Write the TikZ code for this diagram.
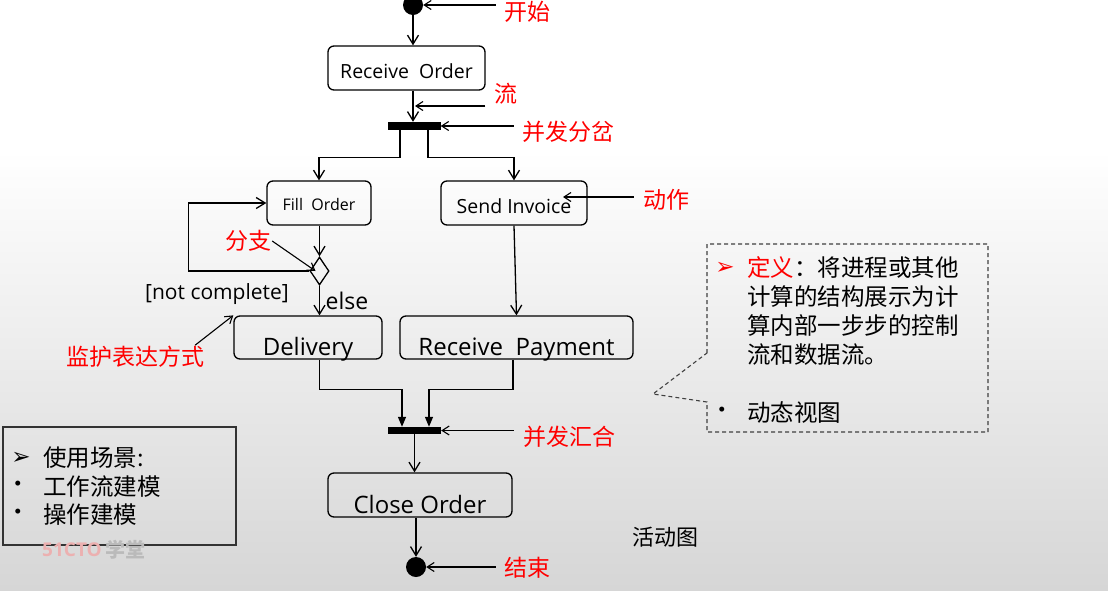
\documentclass[tikz,border=0pt]{standalone}
\usepackage{fontspec}
\setmainfont{Open Sans}
\newfontfamily\cjk{Noto Sans CJK SC}
\newfontfamily\sym{DejaVu Sans}
\usetikzlibrary{arrows.meta,shapes.geometric}
\definecolor{wmred}{RGB}{236,176,176}
\definecolor{wmgray}{RGB}{186,186,186}
\definecolor{bggray}{RGB}{214,214,214}

\begin{document}
\begin{tikzpicture}[x=1pt,y=1pt,yscale=-1,xscale=1,
  act/.style={draw=black, line width=1.3, rounded corners=6, inner sep=0, align=center},
  bar/.style={fill=black, inner sep=0, minimum width=53, minimum height=8},
  dot/.style={circle, fill=black, inner sep=0, minimum size=20},
  flow/.style={draw=black, line width=1.3, -{Straight Barb[length=9,width=11]}},
  flowin/.style={draw=black, line width=1.3, -{Triangle[length=10,width=8]}},
  ptr/.style={draw=black, line width=1.1, -{Straight Barb[length=7,width=9]}},
  lbl/.style={text=red, font=\cjk\fontsize{23}{28}\selectfont, inner sep=1},
  note/.style={font=\cjk\fontsize{23.5}{29}\selectfont, inner sep=0}
]
\useasboundingbox (0,0) rectangle (1108,590);

% background
\fill[white] (0,0) rectangle (1108,150);
\begin{scope}[yscale=-1]
\shade[top color=white, bottom color=bggray] (0,-150) rectangle (1108,-590);
\end{scope}

% activities
\node[dot] (start) at (413,5) {};
\node[act, minimum width=157, text height=32, text depth=12, font=\fontsize{19.5}{20}\selectfont] (recv) at (406.5,68) {Receive~~Order};
\node[bar] (fork) at (414,126) {};
\node[act, minimum width=104, text height=29, text depth=15, font=\fontsize{16}{18}\selectfont] (fill) at (319,203) {Fill~~Order};
\node[act, minimum width=146, text height=32, text depth=12, font=\fontsize{19.5}{20}\selectfont] (send) at (514,203) {Send Invoice};
\node[draw=black, line width=1.3, shape=diamond, minimum width=19, minimum height=28, inner sep=0] (branch) at (319.5,271) {};
\node[act, minimum width=148, text height=39, text depth=4, font=\fontsize{24}{26}\selectfont] (deliv) at (308,337.5) {Delivery};
\node[act, minimum width=233, text height=39, text depth=4, font=\fontsize{24}{26}\selectfont] (pay) at (516.5,337.5) {Receive~~Payment};
\node[bar, minimum height=7] (join) at (414.5,430.5) {};
\node[act, minimum width=184, text height=40, text depth=4, font=\fontsize{24}{26}\selectfont] (close) at (420,495) {Close Order};
\node[dot] (final) at (416,567) {};

% flows
\draw[flow] (start) -- (start |- recv.north);
\draw[flow] (recv.south -| start) -- (fork.north -| start);
\draw[flow] ([xshift=-14]fork.south) -- ++(0,27) -| (fill.north);
\draw[flow] ([xshift=14]fork.south) -- ++(0,27) -| (send.north);
\draw[flow] (fill.south -| branch) -- (branch.north);
\draw[flow] (branch.west) -- ++(-121,0) |- (fill.west);
\draw[flow] (branch.south) -- (branch.south |- deliv.north);
\draw[flow] (send.south) -- (pay.north);
\draw[flowin] (deliv.south -| branch) -- ++(0,30) -| ([xshift=-12.5]join.north);
\draw[flowin] ([xshift=-3.5]pay.south) -- ++(0,30) -| ([xshift=14.5]join.north);
\draw[flow] (join.south) -- (join.south |- close.north);
\draw[flow] (close.south -| final) -- (final.north);

\node[font=\fontsize{21}{24}\selectfont] (guard) at (217,294) {[not complete]};
\node[font=\fontsize{23}{26}\selectfont] (else) at (347,301) {else};

% red labels
\coordinate (flowTip) at (415,106);
\coordinate (actTip) at (563,197);
\node[lbl] (lStart) at (527,12) {开始};
\node[lbl] (lFlow) at (506,94) {流};
\node[lbl] (lFork) at (568,132) {并发分岔};
\node[lbl] (lAct) at (666,200) {动作};
\node[lbl] (lBranch) at (248,241) {分支};
\node[lbl] (lGuard) at (135,357) {监护表达方式};
\node[lbl] (lJoin) at (569,437) {并发汇合};
\node[lbl] (lEnd) at (527,568) {结束};

\draw[ptr] ([xshift=-7]lStart.west |- start.east) -- (start.east);
\draw[ptr] ([xshift=-8]lFlow.west |- flowTip) -- (flowTip);
\draw[ptr] ([xshift=-7]lFork.west |- fork.east) -- (fork.east);
\draw[ptr] ([xshift=-8]lAct.west |- actTip) -- (actTip);
\draw[ptr] (lBranch.east) -- ([xshift=-4]branch.center);
\draw[ptr] ([xshift=-10]lGuard.north east) -- (deliv.north west);
\draw[ptr] ([xshift=-8]lJoin.west |- join.east) -- (join.east);
\draw[ptr] ([xshift=-7]lEnd.west |- final.east) -- (final.east);

\node[font=\cjk\fontsize{22}{26}\selectfont] (title) at (665,537) {活动图};

% definition callout
\draw[dash pattern=on 4 off 3, draw=black!75, line width=1.1] (707,353) -- (707,244) -- (988,244) -- (988,432) -- (707,432) -- (707,402) -- (653,394) -- cycle;
\node[text=red, font=\sym\fontsize{23}{24}\selectfont, inner sep=0] (mark1) at (725,268) {➢};
\foreach \t [count=\i] in {{\textcolor{red}{定义}：将进程或其他}, 计算的结构展示为计, 算内部一步步的控制, 流和数据流。}
  \node[note, anchor=west] (def\i) at (747,{239+29*\i}) {\t};
\node[note] (dot1) at (722,413) {•};
\node[note, anchor=west] (view) at (747,413) {动态视图};

% usage box
\draw[line width=1.3, draw=black!80] (3,427) rectangle (236,545);
\node[font=\sym\fontsize{23}{24}\selectfont, inner sep=0] (mark2) at (21,458) {➢};
\node[note] (dot2) at (18,487) {•};
\node[note] (dot3) at (18,515) {•};
\foreach \t [count=\i] in {使用场景:, 工作流建模, 操作建模}
  \node[note, anchor=west] (use\i) at (43,{458+28.5*(\i-1)}) {\t};

% watermark
\node[text=wmred, font=\bfseries\fontsize{19}{22}\selectfont, inner sep=0] (wm1) at (72,550) {51CTO};
\node[text=wmgray, font=\cjk\bfseries\fontsize{20}{22}\selectfont, inner sep=0] (wm2) at (125,550) {学堂};
\end{tikzpicture}
\end{document}
